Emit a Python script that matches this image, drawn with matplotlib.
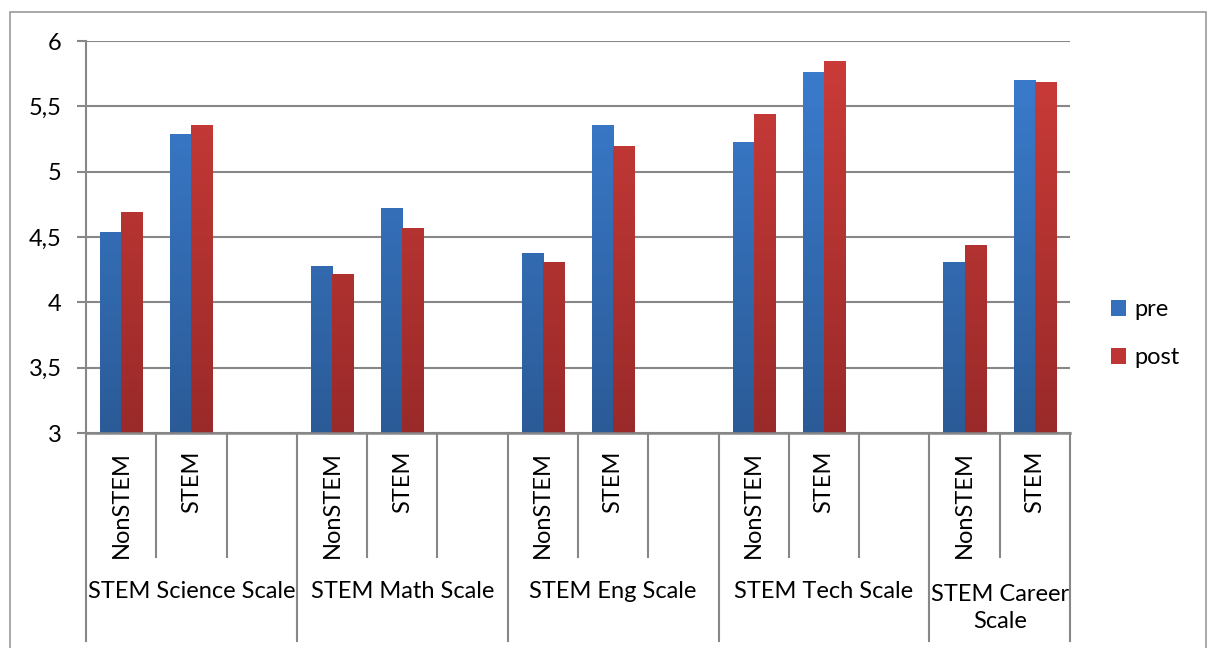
import numpy as np
import matplotlib
matplotlib.use("Agg")
import matplotlib.pyplot as plt
from matplotlib.patches import Rectangle, Patch
from matplotlib.colors import LinearSegmentedColormap

plt.rcParams['font.family'] = ['Lato', 'DejaVu Sans']

groups = ["STEM Science Scale", "STEM Math Scale", "STEM Eng Scale",
          "STEM Tech Scale", "STEM Career\nScale"]
subcats = ["NonSTEM", "STEM"]
pre = [4.54, 5.29, 4.28, 4.72, 4.38, 5.36, 5.23, 5.76, 4.31, 5.70]
post = [4.69, 5.36, 4.22, 4.57, 4.31, 5.20, 5.44, 5.85, 4.44, 5.69]
yticks = [3, 3.5, 4, 4.5, 5, 5.5, 6]
ytick_labels = ["3", "3,5", "4", "4,5", "5", "5,5", "6"]

FS = 17
W, H = 1208, 648
fig = plt.figure(figsize=(W / 100, H / 100), dpi=100)
ax = fig.add_axes([86 / W, 1 - 433 / H, (1070 - 86) / W, (433 - 41) / H])

# slot positions: 3 slots per group (last group has 2)
positions = []
labels_sub = []
for g in range(len(groups)):
    for s in range(len(subcats)):
        positions.append(g * 3 + s)
        labels_sub.append(subcats[s])
positions = np.array(positions, dtype=float)
nslots = 3 * (len(groups) - 1) + 2

bw = 0.3
blue_cmap = LinearSegmentedColormap.from_list("b", ["#2B5B97", "#3C7ED1"])
red_cmap = LinearSegmentedColormap.from_list("r", ["#992A29", "#CD3C39"])
grad = np.linspace(0, 1, 256).reshape(-1, 1)

def gradient_bars(xs, vals, cmap, color):
    bars = ax.bar(xs, np.array(vals) - 3, width=bw, bottom=3, color=color,
                  edgecolor='none', zorder=3)
    for b in bars:
        x0 = b.get_x()
        im = ax.imshow(grad, extent=[x0, x0 + b.get_width(), 3, 6],
                       origin='lower', cmap=cmap, aspect='auto', zorder=4)
        im.set_clip_path(b)
    return bars

gradient_bars(positions - bw / 2, pre, blue_cmap, "#3470BC")
gradient_bars(positions + bw / 2, post, red_cmap, "#BE3533")
ax.set_xlim(-0.5, nslots - 0.5)
ax.set_ylim(3, 6)

# grid
ax.set_yticks(yticks)
ax.set_yticklabels(ytick_labels, fontsize=FS)
ax.yaxis.grid(True, color='#878787', lw=1.5, zorder=0)
ax.tick_params(axis='y', length=6.5, width=1.5, color='#878787', pad=11)
ax.tick_params(axis='x', length=0, labelbottom=False)
for sp in ['top', 'right', 'bottom']:
    ax.spines[sp].set_visible(False)
ax.spines['left'].set_color('#878787')
ax.spines['left'].set_linewidth(1.5)
ax.axhline(3, color='#878787', lw=1.8, zorder=5, clip_on=False)

# multi-level category axis
axh = 433 - 41
y_sub = -(557 - 433) / axh
y_grp = -(641 - 433) / axh
ln = dict(color='#878787', lw=1.5, clip_on=False, transform=ax.get_xaxis_transform())
for k in range(nslots + 1):
    xb = k - 0.5
    if k % 3 == 0 or k == nslots:
        ax.plot([xb, xb], [0, y_grp], **ln)
    else:
        ax.plot([xb, xb], [0, y_sub], **ln)

for p, lab in zip(positions, labels_sub):
    ax.text(p, -(451 - 433) / axh, lab, rotation=90, ha='center', va='top',
            fontsize=FS, transform=ax.get_xaxis_transform())

for g, name in enumerate(groups):
    n = 3 if g < len(groups) - 1 else 2
    xc = g * 3 + (n - 1) / 2
    yc = -(591 - 433) / axh if "\n" not in name else -(608 - 433) / axh
    ax.text(xc, yc, name, ha='center', va='center', fontsize=FS,
            linespacing=1.4, transform=ax.get_xaxis_transform())

# legend
handles = [Patch(facecolor="#3470BC", label="pre"),
           Patch(facecolor="#BE3533", label="post")]
fig.legend(handles=handles, loc='upper left',
           bbox_to_anchor=(1111 / W, 1 - 299 / H), frameon=False,
           fontsize=FS, handlelength=0.65, handleheight=0.65,
           handletextpad=0.35, labelspacing=1.15, borderpad=0,
           borderaxespad=0)

# outer border
fig.patches.append(Rectangle((10 / W, -0.05), (1206 - 10) / W, 1.05 - 12 / H,
                             transform=fig.transFigure, fill=False,
                             edgecolor='#9A9A9A', lw=1.2))

fig.savefig("out.png", dpi=100)
